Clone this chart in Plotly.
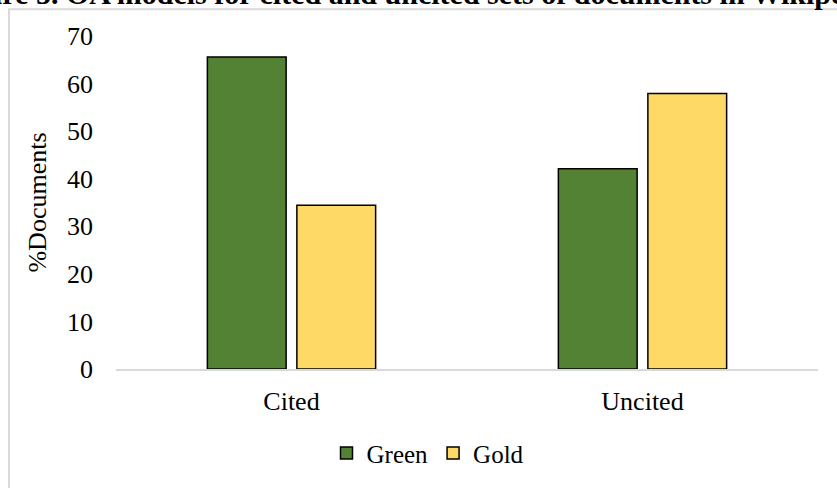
import plotly.graph_objects as go

# Share of documents by open-access model
categories = ["Cited", "Uncited"]
green_pct = [65.6, 42.1]
gold_pct = [34.4, 57.9]
series_names = ["Green", "Gold"]
y_ticks = [0, 10, 20, 30, 40, 50, 60, 70]

W, H = 837, 488
L, R, T, B = 116, 19, 36, 116
pw, ph = W - L - R, H - T - B


def px_x(p):
    return (p - L) / pw


def px_y(p):
    return (H - B - p) / ph


serif = "Liberation Serif, Times New Roman, serif"
outline = dict(color="#000000", width=1.5)
fs = 26

fig = go.Figure()
fig.add_trace(go.Bar(x=categories, y=green_pct, name=series_names[0],
                     marker=dict(color="#548235", line=outline)))
fig.add_trace(go.Bar(x=categories, y=gold_pct, name=series_names[1],
                     marker=dict(color="#FFD966", line=outline)))

fig.update_layout(
    width=W, height=H,
    margin=dict(l=L, r=R, t=T, b=B, pad=0),
    paper_bgcolor="white", plot_bgcolor="white",
    barmode="group", bargap=0.49, bargroupgap=0.12,
    font=dict(family=serif, size=fs, color="#000000"),
    showlegend=True,
    legend=dict(orientation="h", x=px_x(428), xanchor="center",
                y=px_y(457), yanchor="middle",
                font=dict(family=serif, size=25, color="#000000"),
                itemwidth=30, tracegroupgap=0),
    xaxis=dict(showline=True, linecolor="#d9d9d9", linewidth=1.5,
               ticks="", showgrid=False, zeroline=False,
               tickfont=dict(family=serif, size=fs), ticklabelstandoff=8),
    yaxis=dict(range=[0, 70], tickvals=y_ticks, showgrid=False,
               zeroline=False, showline=False, ticks="",
               tickfont=dict(family=serif, size=fs), ticklabelstandoff=22,
               title=dict(text="%Documents", standoff=12,
                          font=dict(family=serif, size=fs))),
)

# outer chart frame
fig.add_shape(type="rect", xref="paper", yref="paper",
              x0=px_x(9), x1=px_x(W + 20), y0=px_y(H + 20), y1=px_y(9),
              line=dict(color="#d9d9d9", width=2), fillcolor="rgba(0,0,0,0)",
              layer="below")

# figure caption above the frame
fig.add_annotation(text="<b>Figure 5. OA models for cited and uncited sets of documents in Wikipedia</b>",
                   xref="paper", yref="paper", x=px_x(-58), y=px_y(12),
                   xanchor="left", yanchor="bottom", showarrow=False,
                   font=dict(family=serif, size=30, color="#000000"))

fig.write_html("out.html")
